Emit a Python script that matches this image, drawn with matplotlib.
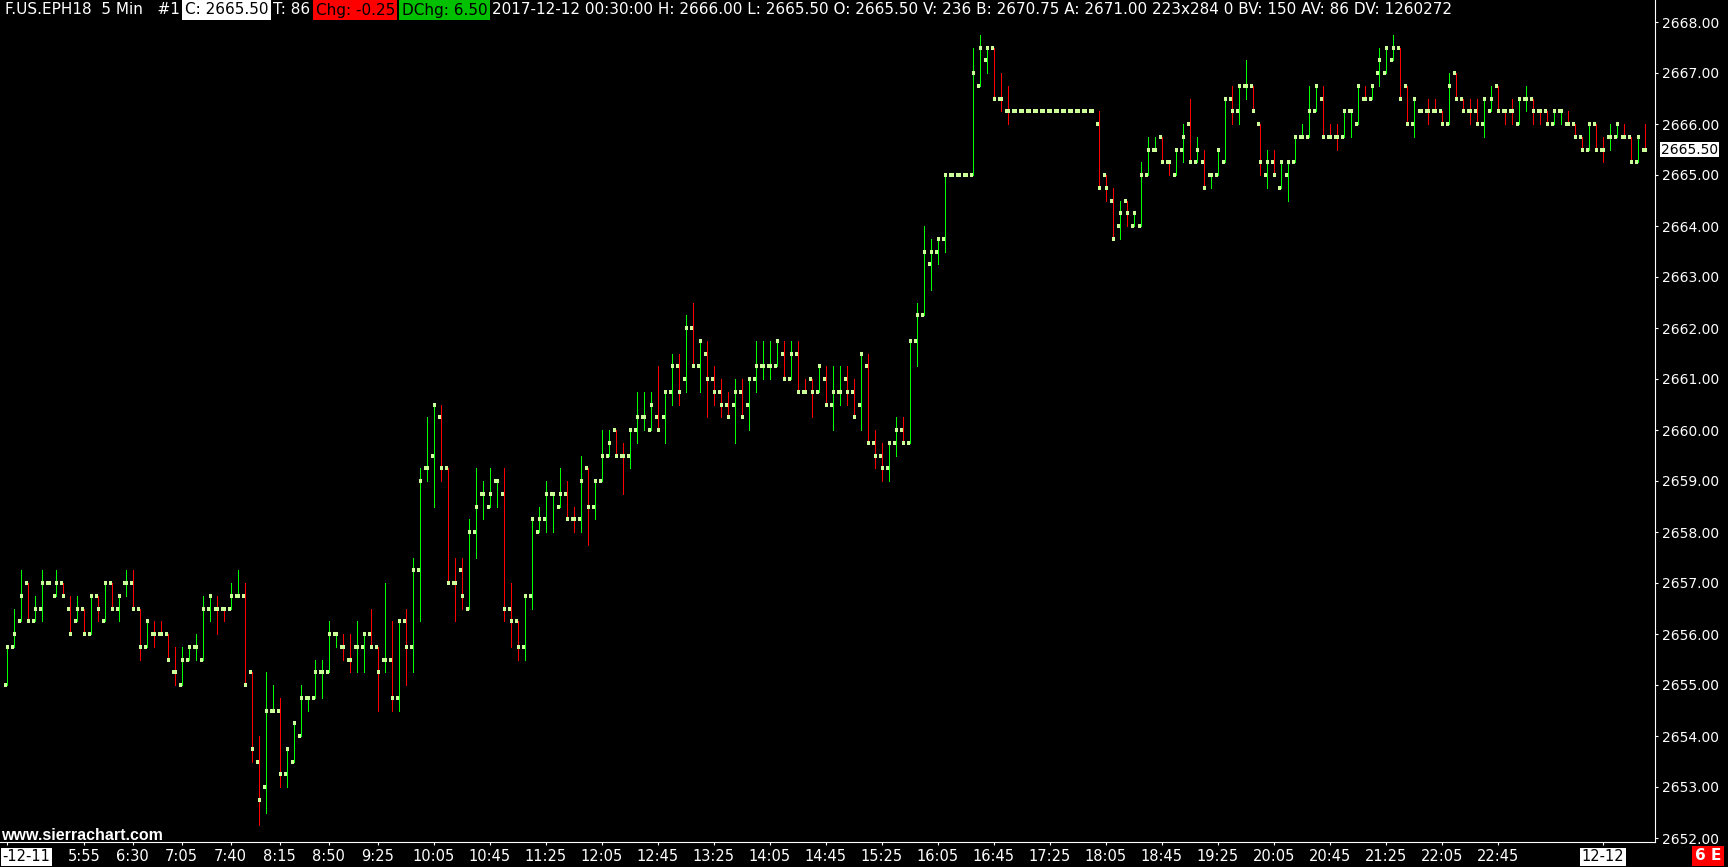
import numpy as np
import pandas as pd
import matplotlib

matplotlib.use("Agg")
import matplotlib.pyplot as plt
from matplotlib.transforms import ScaledTranslation

W, H = 1728, 867

# 5-minute ES bars, 2017-12-11 05:00 -> 2017-12-12 00:30
opens = [
    2655.0, 2655.75, 2656.25, 2657.0, 2656.25, 2656.5, 2657.0, 2656.75, 2657.0, 2656.5,
    2656.25, 2656.5, 2656.0, 2656.75, 2656.25, 2657.0, 2656.5, 2657.0, 2657.0, 2656.5,
    2655.75, 2656.0, 2656.0, 2656.0, 2655.25, 2655.0, 2655.5, 2655.75, 2655.5, 2656.5,
    2656.5, 2656.5, 2656.5, 2656.75, 2656.75, 2655.25, 2653.5, 2653.0, 2654.5, 2654.5,
    2653.25, 2653.5, 2654.0, 2654.75, 2654.75, 2655.25, 2655.25, 2656.0, 2655.75, 2655.5,
    2655.75, 2655.75, 2656.0, 2655.75, 2655.5, 2655.5, 2654.75, 2656.25, 2655.75, 2657.25,
    2659.25, 2659.5, 2660.25, 2659.25, 2657.0, 2657.25, 2656.5, 2658.0, 2658.75, 2658.5,
    2659.0, 2658.75, 2656.5, 2656.25, 2655.75, 2656.75, 2658.0, 2658.25, 2658.75, 2658.5,
    2658.75, 2658.25, 2658.25, 2659.25, 2658.5, 2659.0, 2659.5, 2660.0, 2659.5, 2659.5,
    2660.0, 2660.25, 2660.0, 2660.25, 2660.25, 2660.75, 2661.25, 2661.0, 2662.0, 2661.25,
    2661.5, 2661.0, 2660.75, 2660.5, 2660.5, 2660.75, 2660.5, 2661.0, 2661.25, 2661.25,
    2661.25, 2661.5, 2661.0, 2661.5, 2660.75, 2661.0, 2660.75, 2661.0, 2660.5, 2660.75,
    2661.0, 2660.75, 2660.5, 2661.25, 2659.75, 2659.5, 2659.25, 2659.75, 2660.0, 2659.75,
    2661.75, 2662.25, 2663.25, 2663.5, 2663.75, 2665.0, 2665.0, 2665.0, 2665.0, 2666.75,
    2667.25, 2667.5, 2666.5, 2666.25, 2666.25, 2666.25, 2666.25, 2666.25, 2666.25, 2666.25,
    2666.25, 2666.25, 2666.25, 2666.25, 2666.25, 2666.25, 2666.0, 2665.0, 2664.5, 2664.0,
    2664.5, 2664.0, 2664.0, 2665.0, 2665.5, 2665.75, 2665.25, 2665.0, 2665.5, 2666.0,
    2665.25, 2665.25, 2665.0, 2665.0, 2665.25, 2666.5, 2666.25, 2666.75, 2666.75, 2666.0,
    2665.0, 2665.25, 2664.75, 2665.0, 2665.25, 2665.75, 2665.75, 2666.25, 2666.5, 2665.75,
    2665.75, 2665.75, 2666.25, 2666.0, 2666.5, 2666.5, 2667.0, 2667.0, 2667.25, 2667.5,
    2666.75, 2666.0, 2666.25, 2666.25, 2666.25, 2666.25, 2666.0, 2667.0, 2666.5, 2666.25,
    2666.25, 2666.0, 2666.25, 2666.75, 2666.25, 2666.25, 2666.0, 2666.5, 2666.5, 2666.25,
    2666.25, 2666.0, 2666.25, 2666.0, 2666.0, 2665.75, 2665.5, 2666.0, 2665.5, 2665.75,
    2665.75, 2665.75, 2665.75, 2665.25, 2665.5,
]
highs = [
    2655.75, 2656.5, 2657.25, 2657.0, 2656.75, 2657.25, 2657.0, 2657.25, 2657.0, 2656.75,
    2656.75, 2656.5, 2656.75, 2656.75, 2657.0, 2657.0, 2656.75, 2657.25, 2657.25, 2656.5,
    2656.25, 2656.25, 2656.25, 2656.0, 2655.75, 2655.75, 2655.75, 2656.0, 2656.75, 2656.75,
    2656.75, 2656.5, 2657.0, 2657.25, 2657.0, 2655.25, 2654.0, 2655.25, 2655.0, 2654.75,
    2653.75, 2654.25, 2655.0, 2654.75, 2655.5, 2655.5, 2656.25, 2656.0, 2656.0, 2656.0,
    2656.25, 2656.0, 2656.5, 2655.75, 2657.0, 2656.25, 2656.25, 2656.5, 2657.5, 2659.25,
    2660.25, 2660.5, 2660.5, 2659.25, 2657.5, 2657.5, 2658.25, 2659.25, 2659.0, 2659.25,
    2659.0, 2659.25, 2657.0, 2656.25, 2656.75, 2658.25, 2658.5, 2659.0, 2658.75, 2659.25,
    2659.0, 2658.5, 2659.5, 2659.25, 2659.0, 2660.0, 2660.0, 2660.0, 2659.75, 2660.0,
    2660.75, 2660.75, 2660.75, 2661.25, 2660.75, 2661.5, 2661.5, 2662.25, 2662.5, 2661.75,
    2661.75, 2661.25, 2661.0, 2660.75, 2661.0, 2661.0, 2661.0, 2661.75, 2661.75, 2661.75,
    2661.75, 2661.75, 2661.75, 2661.75, 2661.0, 2661.0, 2661.25, 2661.25, 2661.25, 2661.25,
    2661.25, 2661.0, 2661.5, 2661.5, 2660.0, 2659.75, 2659.75, 2660.25, 2660.25, 2661.75,
    2662.5, 2664.0, 2663.75, 2663.75, 2665.0, 2665.0, 2665.0, 2665.0, 2667.5, 2667.75,
    2667.5, 2667.5, 2667.0, 2666.75, 2666.25, 2666.25, 2666.25, 2666.25, 2666.25, 2666.25,
    2666.25, 2666.25, 2666.25, 2666.25, 2666.25, 2666.25, 2666.25, 2665.0, 2664.75, 2664.5,
    2664.5, 2664.25, 2665.25, 2665.75, 2665.75, 2665.75, 2665.25, 2665.5, 2666.0, 2666.5,
    2665.75, 2665.5, 2665.0, 2665.5, 2666.5, 2666.75, 2666.75, 2667.25, 2666.75, 2666.0,
    2665.5, 2665.5, 2665.25, 2665.25, 2665.75, 2666.0, 2666.75, 2666.75, 2666.75, 2666.0,
    2666.0, 2666.25, 2666.25, 2666.75, 2666.75, 2666.75, 2667.5, 2667.5, 2667.75, 2667.5,
    2666.75, 2666.5, 2666.25, 2666.5, 2666.5, 2666.25, 2667.0, 2667.0, 2666.5, 2666.5,
    2666.5, 2666.5, 2666.75, 2666.75, 2666.25, 2666.5, 2666.5, 2666.75, 2666.5, 2666.25,
    2666.25, 2666.25, 2666.25, 2666.25, 2666.0, 2665.75, 2666.0, 2666.0, 2665.75, 2666.0,
    2666.0, 2666.0, 2665.75, 2665.75, 2666.0,
]
lows = [
    2655.0, 2655.75, 2656.25, 2656.25, 2656.25, 2656.25, 2657.0, 2656.75, 2656.75, 2656.0,
    2656.25, 2656.0, 2656.0, 2656.25, 2656.25, 2656.5, 2656.25, 2656.75, 2656.5, 2655.5,
    2655.75, 2655.75, 2656.0, 2655.5, 2655.0, 2655.0, 2655.5, 2655.5, 2655.5, 2656.25,
    2656.0, 2656.25, 2656.5, 2656.75, 2655.0, 2653.5, 2652.25, 2652.5, 2654.5, 2653.0,
    2653.0, 2653.5, 2654.0, 2654.5, 2654.75, 2654.75, 2655.25, 2655.75, 2655.5, 2655.25,
    2655.25, 2655.25, 2655.75, 2654.5, 2655.25, 2654.5, 2654.5, 2655.0, 2655.25, 2656.25,
    2659.0, 2658.5, 2659.0, 2657.0, 2656.25, 2656.5, 2656.5, 2657.5, 2658.25, 2658.5,
    2658.5, 2656.25, 2655.75, 2655.5, 2655.5, 2656.5, 2658.0, 2658.0, 2658.0, 2658.5,
    2658.25, 2658.0, 2658.0, 2657.75, 2658.25, 2659.0, 2659.5, 2659.5, 2658.75, 2659.25,
    2659.75, 2660.0, 2660.0, 2660.0, 2659.75, 2660.5, 2660.5, 2660.75, 2661.25, 2660.75,
    2660.25, 2660.5, 2660.25, 2660.25, 2659.75, 2660.25, 2660.0, 2660.75, 2661.0, 2661.0,
    2661.25, 2661.0, 2661.0, 2660.75, 2660.75, 2660.25, 2660.75, 2660.5, 2660.0, 2660.5,
    2660.5, 2660.25, 2660.0, 2659.75, 2659.25, 2659.0, 2659.0, 2659.5, 2659.75, 2659.75,
    2661.25, 2662.25, 2662.75, 2663.25, 2663.5, 2665.0, 2665.0, 2665.0, 2665.0, 2666.75,
    2667.0, 2666.5, 2666.25, 2666.0, 2666.25, 2666.25, 2666.25, 2666.25, 2666.25, 2666.25,
    2666.25, 2666.25, 2666.25, 2666.25, 2666.25, 2666.25, 2664.75, 2664.5, 2663.75, 2663.75,
    2664.0, 2664.0, 2664.0, 2665.0, 2665.5, 2665.25, 2665.0, 2665.0, 2665.25, 2665.25,
    2665.25, 2664.75, 2664.75, 2665.0, 2665.25, 2666.0, 2666.0, 2666.5, 2666.25, 2665.0,
    2664.75, 2665.0, 2664.75, 2664.5, 2665.25, 2665.75, 2665.75, 2666.25, 2665.75, 2665.75,
    2665.5, 2665.75, 2665.75, 2666.0, 2666.5, 2666.5, 2666.75, 2667.0, 2667.25, 2666.5,
    2666.0, 2665.75, 2666.25, 2666.0, 2666.25, 2666.0, 2666.0, 2666.5, 2666.25, 2666.0,
    2666.0, 2665.75, 2666.25, 2666.25, 2666.0, 2666.0, 2666.0, 2666.25, 2666.0, 2666.0,
    2666.0, 2666.0, 2666.0, 2666.0, 2665.75, 2665.5, 2665.5, 2665.5, 2665.25, 2665.5,
    2665.75, 2665.75, 2665.25, 2665.25, 2665.5,
]
closes = [
    2655.75, 2656.0, 2656.75, 2656.25, 2656.5, 2657.0, 2657.0, 2657.0, 2656.75, 2656.0,
    2656.5, 2656.0, 2656.75, 2656.5, 2657.0, 2656.5, 2656.75, 2657.0, 2656.5, 2655.75,
    2656.25, 2656.0, 2656.0, 2655.5, 2655.25, 2655.5, 2655.75, 2655.75, 2656.5, 2656.75,
    2656.5, 2656.5, 2656.75, 2656.75, 2655.0, 2653.75, 2652.75, 2654.5, 2654.5, 2653.25,
    2653.75, 2654.25, 2654.75, 2654.75, 2655.25, 2655.25, 2656.0, 2656.0, 2655.75, 2655.5,
    2655.75, 2656.0, 2655.75, 2655.25, 2655.5, 2654.75, 2656.25, 2655.75, 2657.25, 2659.0,
    2659.25, 2660.5, 2659.25, 2657.0, 2657.0, 2656.75, 2658.0, 2658.5, 2658.75, 2658.75,
    2659.0, 2656.5, 2656.25, 2655.75, 2656.75, 2658.25, 2658.25, 2658.75, 2658.75, 2658.75,
    2658.25, 2658.25, 2659.0, 2658.5, 2659.0, 2659.5, 2659.75, 2659.5, 2659.5, 2660.0,
    2660.25, 2660.25, 2660.5, 2660.0, 2660.75, 2661.25, 2660.75, 2662.0, 2661.25, 2661.75,
    2661.0, 2660.75, 2660.5, 2660.25, 2660.75, 2660.25, 2661.0, 2661.25, 2661.25, 2661.25,
    2661.75, 2661.0, 2661.5, 2660.75, 2660.75, 2660.75, 2661.25, 2660.5, 2660.75, 2660.75,
    2660.75, 2660.25, 2661.5, 2659.75, 2659.5, 2659.25, 2659.75, 2660.0, 2659.75, 2661.75,
    2662.25, 2663.5, 2663.5, 2663.75, 2665.0, 2665.0, 2665.0, 2665.0, 2667.0, 2667.5,
    2667.5, 2666.5, 2666.5, 2666.25, 2666.25, 2666.25, 2666.25, 2666.25, 2666.25, 2666.25,
    2666.25, 2666.25, 2666.25, 2666.25, 2666.25, 2666.25, 2664.75, 2664.75, 2663.75, 2664.25,
    2664.25, 2664.25, 2665.0, 2665.5, 2665.5, 2665.25, 2665.25, 2665.5, 2665.75, 2665.25,
    2665.5, 2664.75, 2665.0, 2665.5, 2666.5, 2666.25, 2666.75, 2666.75, 2666.25, 2665.25,
    2665.25, 2665.0, 2665.25, 2665.25, 2665.75, 2665.75, 2666.25, 2666.75, 2665.75, 2665.75,
    2665.75, 2666.25, 2666.25, 2666.75, 2666.5, 2666.75, 2667.25, 2667.5, 2667.5, 2666.5,
    2666.0, 2666.5, 2666.25, 2666.25, 2666.25, 2666.0, 2666.75, 2666.5, 2666.25, 2666.25,
    2666.0, 2666.5, 2666.5, 2666.25, 2666.25, 2666.25, 2666.5, 2666.5, 2666.25, 2666.25,
    2666.0, 2666.25, 2666.25, 2666.0, 2665.75, 2665.5, 2666.0, 2665.5, 2665.5, 2665.75,
    2666.0, 2665.75, 2665.25, 2665.75, 2665.5,
]

start_time = "2017-12-11 05:00"
time_labels = ["5:55", "6:30", "7:05", "7:40", "8:15", "8:50", "9:25", "10:05",
               "10:45", "11:25", "12:05", "12:45", "13:25", "14:05", "14:45",
               "15:25", "16:05", "16:45", "17:25", "18:05", "18:45", "19:25",
               "20:05", "20:45", "21:25", "22:05", "22:45"]
price_ticks = np.arange(2652, 2669, 1)

UP, DOWN, OC = "#00ff00", "#ff0000", "#ccff99"

o, h, l, c = (np.array(a) for a in (opens, highs, lows, closes))
x = np.arange(len(c))
times = pd.date_range(start_time, periods=len(c), freq="5min")

# bar colour: close vs open, ties go to close vs previous close, then keep
up = []
prev = True
for k in range(len(c)):
    if c[k] != o[k]:
        u = c[k] > o[k]
    elif k > 0 and c[k] != c[k - 1]:
        u = c[k] > c[k - 1]
    else:
        u = prev
    up.append(u)
    prev = u
colors = [UP if u else DOWN for u in up]

fig = plt.figure(figsize=(W / 100, H / 100), dpi=100, facecolor="black")
ax = fig.add_axes([0, 1 - 842 / H, 1655 / W, 842 / H])
ax.set_facecolor("black")

ax.vlines(x, l, h, colors=colors, linewidth=0.68, antialiased=False)
ax.hlines(o, x - 0.33, x + 0.07, color=OC, linewidth=1.55, antialiased=False)
ax.hlines(c, x - 0.07, x + 0.33, color=OC, linewidth=1.55, antialiased=False)

ax.set_xlim(-6.7 / 7, (1655 - 6.7) / 7)
ax.set_ylim(2668 - 820 / 51, 2668 + 22 / 51)

for s in ("top", "left"):
    ax.spines[s].set_visible(False)
for s in ("right", "bottom"):
    ax.spines[s].set_color("white")
    ax.spines[s].set_linewidth(0.8)

# price axis on the right
ax.yaxis.tick_right()
ax.set_yticks(price_ticks)
ax.set_yticklabels([f"{v:.2f}" for v in price_ticks])
ax.tick_params(axis="y", colors="white", length=2.2, width=0.8, pad=2.5,
               labelsize=10, labelfontfamily="DejaVu Sans")

# time axis
stamps = [f"{t.hour}:{t.minute:02d}" for t in times]
tick_pos = [0] + [stamps.index(s) for s in time_labels]
tick_txt = ["-" + times[0].strftime("%m-%d")] + time_labels
midnight = [k for k, t in enumerate(times) if t.hour == 0 and t.minute == 0][0]
tick_pos.append(midnight)
tick_txt.append(times[midnight].strftime("%m-%d"))
ax.set_xticks(tick_pos)
ax.set_xticklabels(tick_txt)
ax.tick_params(axis="x", colors="white", length=2.2, width=0.8, pad=3,
               labelsize=10.5, labelfontfamily="DejaVu Sans")
for lbl in ax.get_xticklabels():
    if "-" in lbl.get_text():
        lbl.set_color("black")
        lbl.set_bbox(dict(facecolor="white", edgecolor="none", pad=1.2))
first = ax.get_xticklabels()[0]
first.set_ha("left")
first.set_transform(first.get_transform() + ScaledTranslation(-4.5 / 100, 0, fig.dpi_scale_trans))

# last price marker
ax.annotate(f"{c[-1]:.2f}", xy=(1, c[-1]), xycoords=("axes fraction", "data"),
            xytext=(4.3, 0), textcoords="offset points", va="center", ha="left",
            color="black", fontsize=10, family="DejaVu Sans",
            bbox=dict(facecolor="white", edgecolor="none", pad=0.6),
            annotation_clip=False)

# header line
header = [
    ("F.US.EPH18  5 Min   #1", "white", None),
    (f"C: {c[-1]:.2f}", "black", "white"),
    ("T: 86", "white", None),
    (f"Chg: {c[-1] - c[-2]:.2f}", "black", "#ff0000"),
    ("DChg: 6.50", "black", "#00c000"),
    (f"{times[-1]:%Y-%m-%d %H:%M:%S} H: {h[-1]:.2f} L: {l[-1]:.2f} O: {o[-1]:.2f} "
     "V: 236 B: 2670.75 A: 2671.00 223x284 0 BV: 150 AV: 86 DV: 1260272", "white", None),
]
r = fig.canvas.get_renderer()
cursor = 5
for text, fg, bg in header:
    box = dict(facecolor=bg, edgecolor="none", pad=1.8) if bg else None
    if bg:
        cursor += 2
    t = fig.text(cursor / W, 1 - 10 / H, text, color=fg, fontsize=11,
                 family="DejaVu Sans", ha="left", va="center", bbox=box)
    bb = t.get_window_extent(r)
    cursor = bb.x1 + (5 if bg else 3)

fig.text(1 / W, 1 - 840 / H, "www.sierrachart.com", color="white", fontsize=11.5,
         weight="bold", family="Liberation Sans", ha="left", va="baseline")
fig.text(1708 / W, 1 - 856 / H, "6 E", color="white", fontsize=11, weight="bold",
         family="DejaVu Sans", ha="center", va="center",
         bbox=dict(facecolor="#ff0000", edgecolor="none", pad=2))

fig.savefig("out.png", dpi=100, facecolor="black")
